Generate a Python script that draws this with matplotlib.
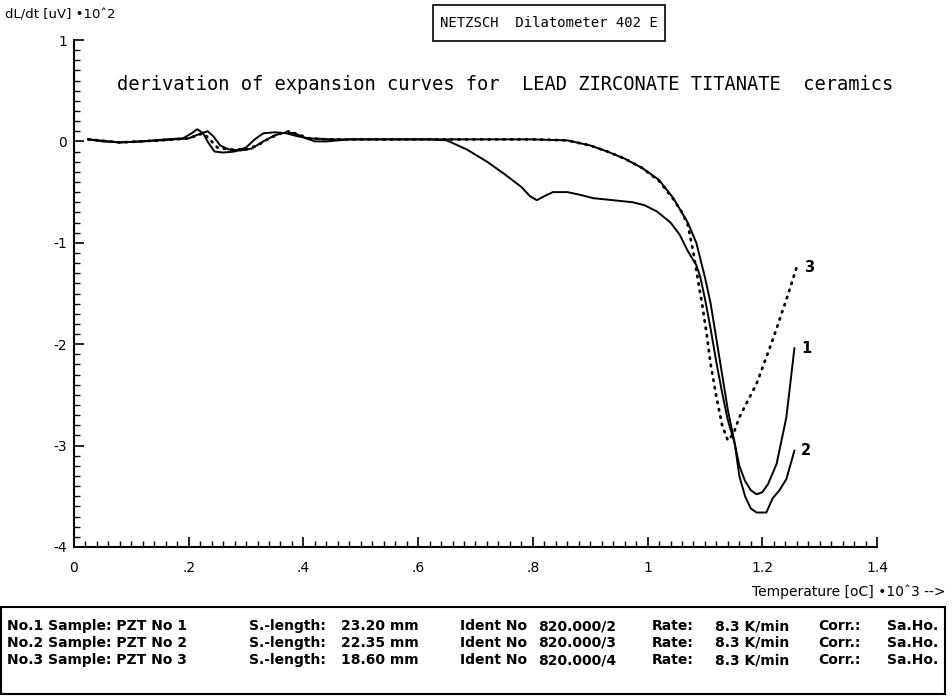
import matplotlib
matplotlib.use("Agg")
import matplotlib.pyplot as plt
from matplotlib.patches import Rectangle

# temperature in 10^3 oC, dL/dt in uV * 10^2
t1 = [0.025, 0.05, 0.08, 0.12, 0.16, 0.19, 0.205, 0.215, 0.225, 0.235, 0.245, 0.26, 0.28, 0.30,
      0.315, 0.33, 0.35, 0.37, 0.39, 0.41, 0.45, 0.55, 0.70, 0.80, 0.86, 0.90, 0.93, 0.96, 0.99,
      1.02, 1.045, 1.07, 1.085, 1.10, 1.11, 1.12, 1.13, 1.14, 1.152, 1.16, 1.17, 1.18, 1.19,
      1.20, 1.21, 1.225, 1.242, 1.256]
v1 = [0.02, 0.0, -0.01, 0.0, 0.02, 0.03, 0.08, 0.12, 0.08, -0.02, -0.10, -0.11, -0.10, -0.06,
      0.02, 0.08, 0.09, 0.08, 0.05, 0.03, 0.02, 0.02, 0.02, 0.02, 0.01, -0.04, -0.10, -0.17, -0.26,
      -0.38, -0.56, -0.80, -1.00, -1.34, -1.60, -1.95, -2.30, -2.65, -2.98, -3.20, -3.35, -3.44, -3.48,
      -3.46, -3.38, -3.18, -2.72, -2.04]

t2 = [0.025, 0.08, 0.15, 0.20, 0.222, 0.233, 0.243, 0.255, 0.27, 0.29, 0.31, 0.33, 0.35, 0.37,
      0.385, 0.40, 0.42, 0.44, 0.48, 0.55, 0.62, 0.65, 0.685, 0.72, 0.75, 0.78, 0.795, 0.807, 0.82,
      0.835, 0.86, 0.885, 0.905, 0.94, 0.974, 0.995, 1.016, 1.04, 1.056, 1.07, 1.085, 1.092, 1.10,
      1.11, 1.12, 1.13, 1.14, 1.152, 1.16, 1.17, 1.18, 1.19, 1.207, 1.218, 1.23, 1.242, 1.256]
v2 = [0.02, -0.01, 0.01, 0.03, 0.08, 0.10, 0.05, -0.04, -0.08, -0.09, -0.07, 0.0, 0.06, 0.09,
      0.08, 0.04, 0.0, 0.0, 0.02, 0.02, 0.02, 0.01, -0.08, -0.20, -0.32, -0.45, -0.54, -0.58, -0.54,
      -0.50, -0.50, -0.53, -0.56, -0.58, -0.60, -0.63, -0.69, -0.80, -0.92, -1.08, -1.22, -1.34, -1.55,
      -1.85, -2.18, -2.48, -2.75, -2.98, -3.30, -3.50, -3.62, -3.66, -3.66, -3.52, -3.44, -3.33, -3.05]

t3 = [0.025, 0.08, 0.15, 0.20, 0.215, 0.225, 0.235, 0.25, 0.27, 0.30, 0.32, 0.34, 0.36, 0.375,
      0.39, 0.41, 0.44, 0.55, 0.70, 0.80, 0.86, 0.90, 0.93, 0.96, 0.99, 1.02, 1.045, 1.06, 1.07,
      1.08, 1.087, 1.095, 1.103, 1.11, 1.12, 1.13, 1.14, 1.15, 1.16, 1.19, 1.218, 1.242, 1.26]
v3 = [0.02, -0.01, 0.01, 0.03, 0.06, 0.08, 0.03, -0.06, -0.08, -0.08, -0.04, 0.03, 0.08, 0.10,
      0.07, 0.03, 0.02, 0.02, 0.02, 0.02, 0.01, -0.04, -0.10, -0.17, -0.26, -0.39, -0.57, -0.70, -0.82,
      -1.10, -1.34, -1.60, -1.90, -2.20, -2.52, -2.80, -2.95, -2.88, -2.72, -2.39, -1.96, -1.56, -1.24]

x_ticks = [0, 0.2, 0.4, 0.6, 0.8, 1.0, 1.2, 1.4]
x_tick_labels = ['0', '.2', '.4', '.6', '.8', '1', '1.2', '1.4']
y_ticks = [1, 0, -1, -2, -3, -4]
y_tick_labels = ['1', '0', '-1', '-2', '-3', '-4']

samples = ['No.1 Sample: PZT No 1', 'No.2 Sample: PZT No 2', 'No.3 Sample: PZT No 3']
lengths = ['23.20', '22.35', '18.60']
idents = ['820.000/2', '820.000/3', '820.000/4']

W, H = 952, 696


def fx(x):
    return x / W


def fy(y):
    return 1 - y / H


fig = plt.figure(figsize=(W / 100, H / 100), dpi=100)
ax = fig.add_axes([fx(74), fy(547), fx(877) - fx(74), fy(40) - fy(547)])

ax.plot(t1, v1, color='black', lw=1.4)
ax.plot(t2, v2, color='black', lw=1.4)
ax.plot(t3, v3, color='black', lw=2.0, linestyle=(0, (0.5, 2.2)), dash_capstyle='round')

lab = dict(fontsize=10.5, fontweight='bold', va='center', ha='left')
ax.text(t3[-1] + 0.012, v3[-1], '3', **lab)
ax.text(t1[-1] + 0.012, v1[-1], '1', **lab)
ax.text(t2[-1] + 0.012, v2[-1], '2', **lab)

ax.set_xlim(0, 1.4)
ax.set_ylim(-4, 1)
ax.set_xticks(x_ticks)
ax.set_xticklabels(x_tick_labels)
ax.set_yticks(y_ticks)
ax.set_yticklabels(y_tick_labels)
ax.set_xticks([i * 0.02 for i in range(71)], minor=True)
ax.set_yticks([1 - i * 0.1 for i in range(51)], minor=True)
ax.tick_params(which='major', direction='in', length=7, width=1.2, labelsize=10)
ax.tick_params(axis='x', which='major', pad=10)
ax.tick_params(axis='y', which='major', pad=5)
ax.tick_params(which='minor', direction='in', length=4, width=1.0)
for s in ['top', 'right']:
    ax.spines[s].set_visible(False)
for s in ['left', 'bottom']:
    ax.spines[s].set_linewidth(1.5)

# header texts
fig.text(fx(5), fy(15), 'dL/dt [uV] \u202210\u02c62', fontsize=9.5, va='center', ha='left')
fig.patches.append(Rectangle((fx(433), fy(41)), fx(665) - fx(433), fy(5) - fy(41),
                             transform=fig.transFigure, fill=False, lw=1.2, edgecolor='black'))
fig.text(fx(549), fy(23), 'NETZSCH  Dilatometer 402 E', fontsize=10, family='DejaVu Sans Mono',
         va='center', ha='center')
fig.text(fx(893), fy(84), 'derivation of expansion curves for  LEAD ZIRCONATE TITANATE  ceramics',
         fontsize=13.5, family='DejaVu Sans Mono', va='center', ha='right')
fig.text(fx(946), fy(592), 'Temperature [oC] \u202210\u02c63 -->', fontsize=10, va='center', ha='right')

# sample info box
fig.patches.append(Rectangle((fx(1), fy(694)), fx(945) - fx(1), fy(607) - fy(694),
                             transform=fig.transFigure, fill=False, lw=1.5, edgecolor='black'))
kw = dict(fontsize=10, fontweight='bold', va='baseline', ha='left')
for i in range(3):
    y = fy(630 + i * 17)
    fig.text(fx(7), y, samples[i], **kw)
    fig.text(fx(249), y, 'S.-length:', **kw)
    fig.text(fx(341), y, lengths[i] + ' mm', **kw)
    fig.text(fx(460), y, 'Ident No', **kw)
    fig.text(fx(538), y, idents[i], **kw)
    fig.text(fx(652), y, 'Rate:', **kw)
    fig.text(fx(715), y, '8.3 K/min', **kw)
    fig.text(fx(818), y, 'Corr.:', **kw)
    fig.text(fx(887), y, 'Sa.Ho.', **kw)

fig.savefig('out.png', dpi=100)
